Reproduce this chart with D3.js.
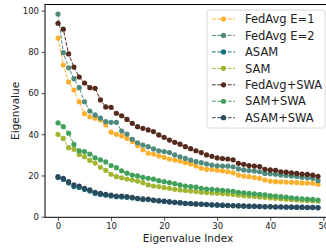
<!DOCTYPE html>
<html>
<head>
<meta charset="utf-8">
<script src="https://cdn.jsdelivr.net/npm/d3@7"></script>
<style>
  body { margin: 0; background: #fff; }
  svg { display: block; font-family: "DejaVu Sans", sans-serif; }
</style>
</head>
<body>
<div id="chart"></div>
<script>
// eigenvalue spectra, index 0..49
let seriesNames = ['FedAvg E=1', 'FedAvg E=2', 'ASAM', 'SAM', 'FedAvg+SWA', 'SAM+SWA', 'ASAM+SWA'];
let seriesColors = ['#fbb12e', '#4e8a7e', '#15707e', '#a3b530', '#55291c', '#41a05b', '#2c4a5d'];

let fedavgE1 = [86.7, 73.6, 65.4, 61.5, 55.8, 50.0, 48.5, 47.8, 46.9, 44.5,
  41.0, 40.0, 39.2, 38.0, 36.5, 34.5, 32.5, 30.8, 30.4, 29.5,
  28.8, 28.0, 27.5, 27.0, 26.2, 25.6, 24.6, 23.5, 23.0, 22.9,
  22.6, 22.2, 21.8, 21.3, 20.2, 19.7, 19.4, 19.0, 18.6, 17.8,
  17.3, 17.0, 16.9, 16.8, 16.7, 16.5, 16.4, 16.3, 16.2, 15.7];
let fedavgE2 = [98.4, 79.6, 72.3, 67.0, 62.6, 55.8, 51.3, 49.4, 47.8, 46.1,
  45.8, 45.8, 41.6, 40.1, 37.6, 35.9, 34.8, 34.0, 32.9, 32.0,
  31.6, 31.1, 30.0, 29.1, 28.3, 27.5, 26.7, 26.2, 25.6, 25.1,
  24.7, 24.6, 24.5, 24.2, 23.2, 22.7, 22.4, 22.2, 21.8, 21.0,
  20.8, 20.6, 20.2, 20.0, 19.8, 19.5, 19.2, 18.9, 18.6, 17.5];
let asam = [19.0, 18.1, 16.4, 14.6, 14.2, 13.2, 12.5, 11.3, 10.8, 10.4,
  10.1, 9.7, 9.6, 9.4, 9.1, 8.7, 8.4, 8.3, 7.9, 7.6,
  7.4, 7.1, 6.9, 6.7, 6.4, 6.3, 6.1, 6.0, 5.9, 5.7,
  5.6, 5.5, 5.4, 5.3, 5.2, 5.1, 5.0, 5.0, 4.9, 4.8,
  4.8, 4.7, 4.7, 4.6, 4.6, 4.5, 4.5, 4.4, 4.4, 4.3];
let sam = [40.0, 38.0, 33.5, 32.7, 30.2, 29.1, 27.3, 26.0, 24.0, 22.5,
  20.6, 19.4, 18.9, 18.3, 17.8, 17.3, 16.5, 15.4, 14.9, 14.6,
  14.1, 13.8, 13.3, 13.0, 12.7, 12.5, 12.2, 11.9, 11.7, 11.5,
  11.4, 11.2, 11.0, 10.8, 10.5, 10.2, 10.0, 9.8, 9.6, 9.4,
  9.1, 8.9, 8.7, 8.5, 8.3, 8.1, 8.0, 7.8, 7.7, 7.6];
let fedavgSwa = [93.9, 91.0, 79.0, 72.6, 67.8, 64.9, 62.6, 62.3, 56.7, 53.3,
  53.1, 50.2, 49.0, 47.2, 45.3, 43.7, 42.9, 42.1, 41.3, 39.7,
  38.5, 37.2, 36.1, 35.2, 34.0, 33.0, 32.0, 31.1, 30.0, 29.3,
  28.5, 28.2, 28.0, 27.6, 25.9, 25.4, 24.8, 24.6, 24.3, 23.0,
  22.7, 22.5, 21.8, 21.6, 21.3, 21.0, 20.7, 20.5, 20.2, 19.6];
let samSwa = [45.5, 43.7, 40.5, 35.1, 31.9, 31.6, 30.4, 28.6, 27.6, 26.6,
  24.8, 23.8, 22.3, 21.1, 20.2, 19.8, 19.1, 18.6, 18.2, 17.5,
  17.0, 16.5, 16.0, 15.4, 14.9, 14.6, 14.3, 13.8, 13.4, 13.3,
  13.0, 12.8, 12.6, 12.3, 11.8, 11.6, 11.3, 11.1, 10.9, 10.6,
  10.2, 10.0, 9.7, 9.5, 9.2, 8.9, 8.7, 8.5, 8.4, 8.1];
let asamSwa = [19.4, 18.6, 17.0, 15.4, 14.9, 13.8, 13.0, 11.8, 11.3, 10.9,
  10.5, 10.0, 10.0, 9.7, 9.4, 8.9, 8.6, 8.5, 8.1, 7.8,
  7.6, 7.3, 7.0, 6.8, 6.5, 6.4, 6.2, 6.1, 6.0, 5.8,
  5.7, 5.6, 5.5, 5.4, 5.3, 5.2, 5.1, 5.1, 5.0, 4.9,
  4.9, 4.8, 4.8, 4.7, 4.7, 4.6, 4.6, 4.5, 4.5, 4.4];

let xTicks = [0, 10, 20, 30, 40, 50];
let yTicks = [0, 20, 40, 60, 80, 100];

let seriesValues = [fedavgE1, fedavgE2, asam, sam, fedavgSwa, samSwa, asamSwa];

let width = 326, height = 251;
// plot box runs a bit past the right edge of the picture, like the reference crop
let plot = { left: 45, right: 331, top: 4.5, bottom: 217.3 };

let svg = d3.select('#chart')
  .append('svg')
  .attr('width', width)
  .attr('height', height);

let x = d3.scaleLinear().domain([-2.45, 51.45]).range([plot.left, plot.right]);
let y = d3.scaleLinear().domain([-0.3, 103]).range([plot.bottom, plot.top]);

// axes
let xAxis = svg.append('g')
  .attr('transform', 'translate(0,' + plot.bottom + ')')
  .call(d3.axisBottom(x).tickValues(xTicks).tickSize(3.5).tickPadding(2.5).tickSizeOuter(0));
let yAxis = svg.append('g')
  .attr('transform', 'translate(' + plot.left + ',0)')
  .call(d3.axisLeft(y).tickValues(yTicks).tickSize(3.5).tickPadding(2.5).tickSizeOuter(0));

[xAxis, yAxis].forEach(ax => {
  ax.selectAll('text').attr('font-size', 8.5).attr('font-family', '"DejaVu Sans", sans-serif').attr('fill', '#222');
  ax.selectAll('line').attr('stroke', '#222').attr('stroke-width', 0.8);
  ax.select('.domain').remove();
});

svg.append('rect')
  .attr('x', plot.left)
  .attr('y', plot.top)
  .attr('width', plot.right - plot.left)
  .attr('height', plot.bottom - plot.top)
  .attr('fill', 'none')
  .attr('stroke', '#000')
  .attr('stroke-width', 1);

let line = d3.line()
  .x((d, i) => x(i))
  .y(d => y(d));

let groups = svg.append('g')
  .selectAll('g')
  .data(seriesValues)
  .enter().append('g')
  .attr('fill', (d, i) => seriesColors[i])
  .attr('stroke', (d, i) => seriesColors[i]);

groups.append('path')
  .attr('d', d => line(d))
  .attr('fill', 'none')
  .attr('stroke-width', 1)
  .attr('stroke-dasharray', '3.7,1.6');

groups.selectAll('circle')
  .data(d => d)
  .enter().append('circle')
  .attr('cx', (d, i) => x(i))
  .attr('cy', d => y(d))
  .attr('r', 2.6)
  .attr('stroke', 'none');

// axis labels
svg.append('text')
  .attr('x', (plot.left + plot.right) / 2)
  .attr('y', 242)
  .attr('text-anchor', 'middle')
  .attr('font-size', 10.5)
  .attr('fill', '#222')
  .text('Eigenvalue Index');

svg.append('text')
  .attr('transform', 'translate(19,' + ((plot.top + plot.bottom) / 2) + ') rotate(-90)')
  .attr('text-anchor', 'middle')
  .attr('font-size', 10.5)
  .attr('fill', '#222')
  .text('Eigenvalue');

// legend
let legendBox = { x: 207, y: 10, w: 118, h: 118 };
let rowPitch = 16.45;

svg.append('rect')
  .attr('x', legendBox.x)
  .attr('y', legendBox.y)
  .attr('width', legendBox.w)
  .attr('height', legendBox.h)
  .attr('rx', 2.5)
  .attr('fill', '#fff')
  .attr('fill-opacity', 0.85)
  .attr('stroke', '#d0d0d0')
  .attr('stroke-width', 0.8);

let legend = svg.selectAll('.legend')
  .data(seriesNames)
  .enter().append('g')
  .attr('class', 'legend')
  .attr('transform', (d, i) => 'translate(' + legendBox.x + ',' + (legendBox.y + 9 + i * rowPitch) + ')');

legend.append('line')
  .attr('x1', 5)
  .attr('x2', 28)
  .attr('stroke', (d, i) => seriesColors[i])
  .attr('stroke-width', 1)
  .attr('stroke-dasharray', '3.7,1.6');

legend.append('circle')
  .attr('cx', 16.5)
  .attr('r', 2.6)
  .attr('fill', (d, i) => seriesColors[i]);

legend.append('text')
  .attr('x', 38)
  .attr('y', 4.2)
  .attr('font-size', 11.5)
  .attr('fill', '#222')
  .text(d => d);
</script>
</body>
</html>
